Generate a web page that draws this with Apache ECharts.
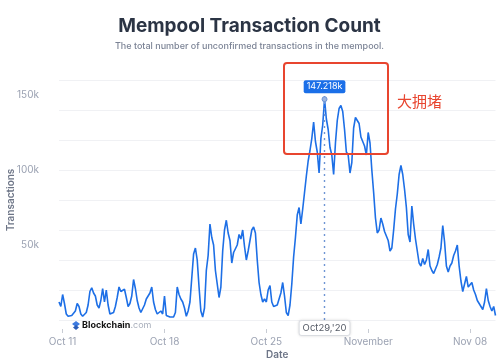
<!DOCTYPE html>
<html><head><meta charset="utf-8">
<script src="https://cdn.jsdelivr.net/npm/echarts@6/dist/echarts.min.js"></script>
<style>html,body{margin:0;padding:0;background:#fff}#c{width:499px;height:361px}</style>
</head><body><div id="c"></div>
<script>
// ---- data ----
const startTime = Date.UTC(2020, 9, 10, 18); // Oct 10 2020 18:00 UTC
const stepHours = 3;
// unconfirmed transactions, thousands, one value every 3 hours
const valuesK = [
  12,9,17,11,4,2.5,2,3,3.5,6,
  11,9,4,2.5,3,5,10,19,
  21.5,18,16,10,8,13,21,12,
  20,10,4,3.5,5,9,15,22,
  19,18,20.5,15,9,11,16,27,
  21,13,8,5,4,10,14,16,
  18,22,12,7,4,3,6,4,
  16,3,2,2,2.5,2,5,22,
  17,14,12,8,2.5,6,12,11,
  44,48,40,22,6,2,8,33,
  43,64,55,50,33,24,15,22,
  46,60,66.5,58,53,38,45,46,
  50,57,54,60,49,40,46,47,
  60,62,58,40,25,17,12,14,
  12,20,23,12,9,8,10,14,
  18,25,16,5,3,10,24,42,
  55,70,75,64,74,85,96,106,
  113,121,132,119,112,98,121,130,
  147.218,134,127,115,110,97,118,133,
  141,143,139,127,112,110,98,105,
  128,135,136,131,122,123,116,110,
  125,118,100,85,68,58,60,68,
  64,59,60,53,46,48,60,74,
  84,97,103,97,87,75,57,52,
  76,64,54,55,38,36,41,37,
  40,47,36,33,31,30,37,42,
  48,63,52,36,32,36,38,43,
  46,50,36,26,19,24,29,22,
  23,25,20,17,13,12,9,7,
  12,21,13,9,6,9,3
];
const tickDates = [Date.UTC(2020,9,11), Date.UTC(2020,9,18), Date.UTC(2020,9,25), Date.UTC(2020,10,1), Date.UTC(2020,10,8)];
const tickLabels = ['Oct 11', 'Oct 18', 'Oct 25', 'November', 'Nov 08'];
const yLabelValues = [50000, 100000, 150000];
const peakIndex = 146;
const titleText = 'Mempool Transaction Count';
const subtitleText = 'The total number of unconfirmed transactions in the mempool.';
const annotationText = '大拥堵';

// ---- build ----
const H = 3600 * 1000;
const data = valuesK.map((v, i) => [startTime + i * stepHours * H, Math.round(v * 1000)]);
const peak = data[peakIndex];
const months = ['Jan','Feb','Mar','Apr','May','Jun','Jul','Aug','Sep','Oct','Nov','Dec'];
function fmtPeakDate(t) {
  const d = new Date(t);
  return months[d.getUTCMonth()] + d.getUTCDate() + ",'" + String(d.getUTCFullYear()).slice(2);
}
const FONT = 'Inter, "Noto Sans", sans-serif';
const chart = echarts.init(document.getElementById('c'));
chart.setOption({
  animation: false,
  backgroundColor: '#fff',
  title: {
    text: titleText, subtext: subtitleText, left: 'center', top: 12, itemGap: 6,
    textStyle: { fontFamily: FONT, fontSize: 19, fontWeight: 700, color: '#2b3444' },
    subtextStyle: { fontFamily: FONT, fontSize: 9, fontWeight: 500, color: '#7b8395' }
  },
  grid: { left: 59, right: 3.5, top: 80, bottom: 41, containLabel: false, outerBoundsMode: 'none' },
  xAxis: {
    type: 'value',
    min: startTime,
    max: startTime + (valuesK.length - 1) * stepHours * H,
    axisLine: { show: false },
    axisTick: { show: true, length: 13, customValues: tickDates,
      lineStyle: { color: '#c8ccd4', type: [0, 9, 4, 100] } },
    axisLabel: {
      customValues: tickDates, margin: 17,
      alignMinLabel: 'center', alignMaxLabel: 'center',
      formatter: v => tickLabels[tickDates.indexOf(v)] || '',
      fontFamily: FONT, fontSize: 10, color: '#9ba2b2'
    },
    splitLine: { show: false },
    name: 'Date', nameLocation: 'middle', nameGap: 30, nameMoveOverlap: false,
    nameTextStyle: { fontFamily: FONT, fontSize: 10, fontWeight: 600, color: '#6d7587' }
  },
  yAxis: {
    type: 'value', min: 0, max: 160000, interval: 20000,
    axisLine: { show: false }, axisTick: { show: false },
    axisLabel: {
      customValues: yLabelValues, margin: 20,
      padding: [4, 0, 0, 0],
      formatter: v => (v / 1000) + 'k',
      fontFamily: FONT, fontSize: 10, color: '#9ba2b2'
    },
    splitLine: { show: true, lineStyle: { color: '#f0f1f4', width: 1 } },
    name: 'Transactions', nameLocation: 'middle', nameGap: 43, nameRotate: 90, nameMoveOverlap: false,
    nameTextStyle: { fontFamily: FONT, fontSize: 10, fontWeight: 600, color: '#6d7587' }
  },
  series: [{
    type: 'line',
    data: data,
    showSymbol: false,
    lineStyle: { color: '#1d6fe6', width: 1.6 },
    markLine: {
      silent: true, symbol: ['none', 'none'],
      lineStyle: { type: [2, 4], color: '#6f95d4', width: 1.4 },
      label: {
        show: true, position: 'start', distance: 1,
        formatter: () => fmtPeakDate(peak[0]),
        fontFamily: FONT, fontSize: 9.5, color: '#555b66',
        backgroundColor: '#fff', borderColor: '#e4e7ec', borderWidth: 1,
        padding: [2, 3], borderRadius: 2,
        shadowBlur: 3, shadowColor: 'rgba(0,0,0,0.12)'
      },
      data: [{ xAxis: peak[0] }]
    },
    markPoint: {
      silent: true, symbol: 'circle', symbolSize: 5,
      itemStyle: { color: '#9db6e2', borderColor: '#6f95d4', borderWidth: 1 },
      label: {
        show: true, position: 'top', distance: 3,
        formatter: () => (peak[1] / 1000).toFixed(3) + 'k',
        fontFamily: FONT, fontSize: 9, color: '#fff',
        backgroundColor: '#1b6fe8', padding: [2, 3], borderRadius: 2
      },
      data: [{ coord: peak, value: peak[1] }]
    }
  }],
  graphic: [
    { type: 'rect', shape: { x: 284, y: 63, width: 104, height: 91, r: 3 },
      style: { fill: 'none', stroke: '#e8452f', lineWidth: 2 }, z: 100 },
    { type: 'text', left: 397, top: 94,
      style: { text: annotationText, fill: '#e8452f', font: '15px "Noto Sans CJK SC"' }, z: 100 },
    { type: 'group', left: 72, top: 321, z: 100, children: [
      { type: 'polygon', shape: { points: [[4,0],[8,3],[4,6],[0,3]] }, style: { fill: '#3d7be0' } },
      { type: 'polygon', shape: { points: [[4,4],[7,6.5],[4,9],[1,6.5]] }, style: { fill: '#2a5cb8' } },
      { type: 'text', left: 10, top: 0,
        style: { text: '{a|Blockchain}{b|.com}',
          rich: { a: { fontFamily: FONT, fontSize: 9, fontWeight: 700, fill: '#111' },
                  b: { fontFamily: FONT, fontSize: 9, fontWeight: 400, fill: '#a8aebb' } } } }
    ]}
  ]
});
</script></body></html>
